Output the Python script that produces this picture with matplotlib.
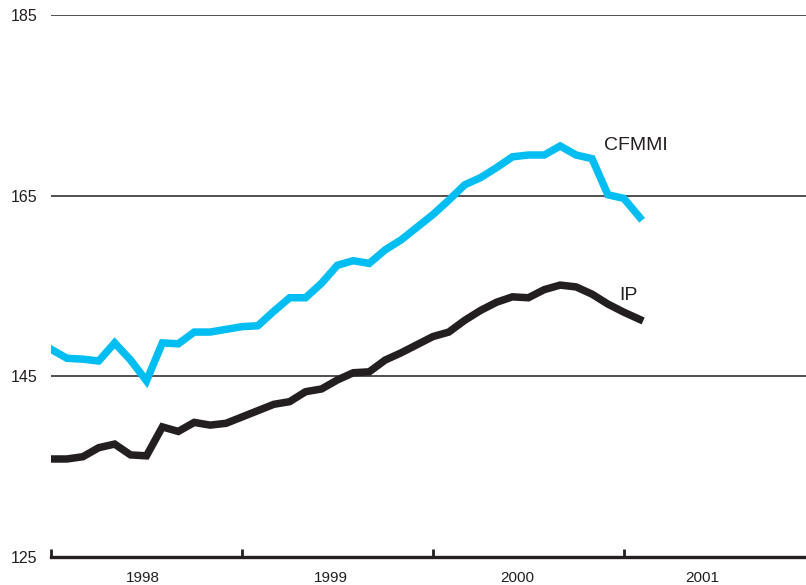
import matplotlib
matplotlib.use("Agg")
import matplotlib.pyplot as plt
import numpy as np

plt.rcParams['font.family'] = ['Liberation Sans', 'DejaVu Sans']

# Monthly values, Jan 1998 - Feb 2001
cfmmi = [148.0, 147.0, 146.9, 146.7, 148.7, 146.8, 144.5, 148.7, 148.6, 149.9,
         149.9, 150.2, 150.5, 150.6, 152.2, 153.7, 153.7, 155.3, 157.3, 157.8,
         157.5, 159.0, 160.1, 161.5, 162.9, 164.5, 166.2, 167.0, 168.1, 169.3,
         169.5, 169.5, 170.5, 169.5, 169.1, 165.1, 164.7, 162.6]
ip = [135.85, 135.85, 136.1, 137.1, 137.5, 136.3, 136.2, 139.4, 138.9, 139.9,
      139.6, 139.8, 140.5, 141.2, 141.9, 142.2, 143.3, 143.6, 144.6, 145.4,
      145.5, 146.8, 147.6, 148.5, 149.4, 149.9, 151.2, 152.3, 153.2, 153.8,
      153.7, 154.6, 155.1, 154.9, 154.1, 153.0, 152.1, 151.3]
years = ['1998', '1999', '2000', '2001']
yticks = [125, 145, 165, 185]
series_labels = ['CFMMI', 'IP']

cyan = '#00BDF2'
dark = '#231F20'

fig = plt.figure(figsize=(8.06, 5.85), dpi=100)
ax = fig.add_axes([51/806, 1-557/585, 1-51/806, (557-15)/585])

months = np.arange(len(cfmmi))
ax.plot(months, cfmmi, color=cyan, lw=5.4, solid_joinstyle='miter', zorder=3)
ax.plot(months, ip, color=dark, lw=5.4, solid_joinstyle='miter', zorder=3)

ax.set_xlim(0, 47.45)
ax.set_ylim(125, 185)

for v in yticks[1:]:
    ax.axhline(v, color=dark, lw=1.1, zorder=1)

for s in ['top', 'right', 'left']:
    ax.spines[s].set_visible(False)
ax.spines['bottom'].set_color(dark)
ax.spines['bottom'].set_linewidth(2.4)
ax.spines['bottom'].set_zorder(4)

ax.set_yticks(yticks)
ax.set_yticklabels([str(v) for v in yticks], fontsize=11.5, color=dark)
ax.tick_params(axis='y', length=0, pad=10)

ax.set_xticks([0, 12, 24, 36])
ax.set_xticklabels([])
ax.tick_params(axis='x', which='major', direction='in', length=6, width=2.0, color=dark)
ax.set_xticks([5.8, 17.6, 29.3, 40.9], minor=True)
ax.set_xticklabels(years, minor=True, fontsize=11, color=dark)
ax.tick_params(axis='x', which='minor', length=0, pad=10)

ax.text(34.75, 170.5, series_labels[0], fontsize=14, color=dark, ha='left', va='center')
ax.text(35.7, 154.0, series_labels[1], fontsize=14, color=dark, ha='left', va='center')

fig.savefig('out.png', dpi=100)
